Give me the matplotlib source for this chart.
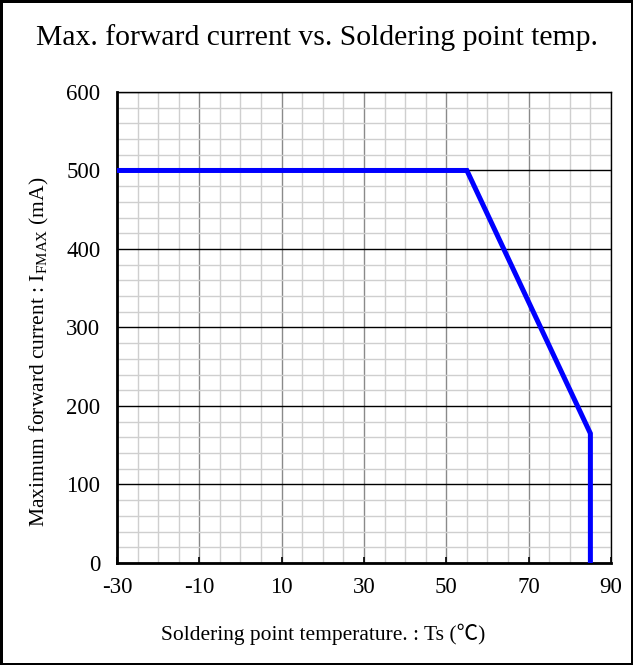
import numpy as np
import matplotlib
matplotlib.use('Agg')
import matplotlib.pyplot as plt
from matplotlib.ticker import MultipleLocator

# derating curve
temp = [-30, 55, 85, 85]
current = [500, 500, 165, 0]

xticks = [-30, -10, 10, 30, 50, 70, 90]
yticks = [0, 100, 200, 300, 400, 500, 600]

plt.rcParams['font.family'] = ['Liberation Serif', 'Noto Sans CJK SC', 'DejaVu Sans']
plt.rcParams['mathtext.fontset'] = 'custom'
plt.rcParams['mathtext.rm'] = 'Liberation Serif'
plt.rcParams['axes.unicode_minus'] = False

fig = plt.figure(figsize=(6.33, 6.65), dpi=100, edgecolor='black', linewidth=2.5)
ax = fig.add_axes([0.1848, 0.1534, 0.7804, 0.7083])

ax.set_xlim(-30, 90)
ax.set_ylim(0, 600)
ax.set_xticks(xticks)
ax.set_yticks(yticks)
ax.xaxis.set_minor_locator(MultipleLocator(5))
ax.yaxis.set_minor_locator(MultipleLocator(20))

ax.grid(which='minor', color='#cfcfcf', linewidth=1.0)
ax.xaxis.grid(which='major', color='#8a8a8a', linewidth=1.0)
ax.yaxis.grid(which='major', color='black', linewidth=1.0)
ax.set_axisbelow(True)

ax.plot(temp, current, color='#0000ff', linewidth=3.6, solid_joinstyle='miter', zorder=5)

for s in ax.spines.values():
    s.set_linewidth(1.0)
ax.spines['left'].set_linewidth(2.0)
ax.spines['bottom'].set_linewidth(2.0)

ax.tick_params(which='major', direction='in', length=4, width=1.2, labelsize=16.5, pad=10)
ax.tick_params(axis='y', which='major', length=0, pad=12)
ax.tick_params(which='minor', length=0)

ax.set_xlabel('Soldering point temperature. : Ts (\u2103)', fontsize=15.5, va='center')
ax.xaxis.set_label_coords(0.417, -0.151)
ax.set_ylabel(r'Maximum forward current : I$_{\mathrm{FMAX}}$ (mA)', fontsize=15.5, va='center')
ax.yaxis.set_label_coords(-0.156, 0.448)

fig.suptitle('Max. forward current vs. Soldering point temp.', fontsize=21.3, y=0.943, va='center')

fig.savefig('out.png', dpi=100, edgecolor=fig.get_edgecolor())
